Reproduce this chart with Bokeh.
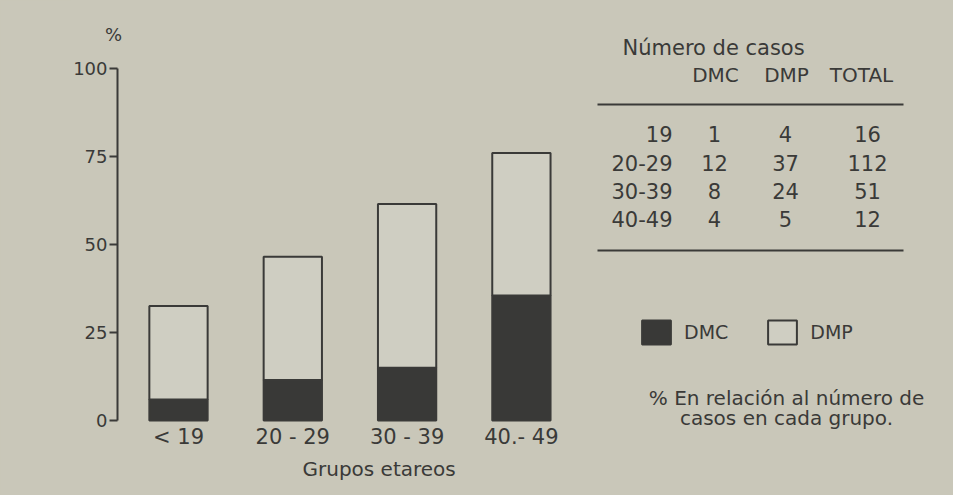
from bokeh.plotting import figure
from bokeh.models import (Range1d, FixedTicker, Label, BoxAnnotation, ColumnDataSource, Title)
from bokeh.embed import file_html
from bokeh.resources import INLINE

# ---------------- data ----------------
groups = ["< 19", "20 - 29", "30 - 39", "40.- 49"]
dmc_pct = [6.0, 11.5, 15.0, 35.5]
dmp_pct = [26.5, 35.0, 46.5, 40.5]
y_ticks = [0, 25, 50, 75, 100]

table_rows = ["19", "20-29", "30-39", "40-49"]
table_dmc = [1, 12, 8, 4]
table_dmp = [4, 37, 24, 5]
table_total = [16, 112, 51, 12]
table_header = ["DMC", "DMP", "TOTAL"]

# ---------------- style / layout ----------------
BG = "#c9c7b9"
LIGHT = "#cfcec2"
DARK = "#393937"
EDGE = "#3a3a38"
INK = "#3a3a38"
FONT = "DejaVu Sans"

W, H = 953, 495
LEFT = 70            # frame left edge (px)
FRAME_BOTTOM = 432   # frame bottom edge (px from top)
ZERO_Y = 420         # pixel row of 0 %
AXIS_X = 117         # pixel column of the y axis line
px_per_pct = 3.52
unit_px = 114.3
first_center_px = 178

x_start = -(first_center_px - LEFT) / unit_px
x_end = x_start + (W - LEFT) / unit_px
y_start = -(FRAME_BOTTOM - ZERO_Y) / px_per_pct
y_end = ZERO_Y / px_per_pct

xs = list(range(len(groups)))
src = ColumnDataSource(dict(x=xs, dmc=dmc_pct, dmp=dmp_pct))

p = figure(width=W, height=H, output_backend="svg", toolbar_location=None,
           x_range=Range1d(x_start, x_end), y_range=Range1d(y_start, y_end),
           min_border_left=LEFT, min_border_bottom=H - FRAME_BOTTOM,
           min_border_top=0, min_border_right=0)
p.background_fill_alpha = 0
p.border_fill_color = BG
p.outline_line_color = None
p.grid.visible = False

p.vbar_stack(["dmc", "dmp"], x="x", width=0.51, source=src,
             fill_color=[DARK, LIGHT], line_color=EDGE, line_width=2,
             legend_label=["DMC", "DMP"])

# y axis (drawn inside the frame at a fixed place)
ya = p.yaxis[0]
ya.fixed_location = x_start + (AXIS_X - LEFT) / unit_px
ya.ticker = FixedTicker(ticks=y_ticks)
ya.bounds = (0, 100)
ya.axis_line_width = 2
ya.axis_line_color = INK
ya.major_tick_line_color = INK
ya.major_tick_line_width = 2
ya.major_tick_in = 0
ya.major_tick_out = 8
ya.minor_tick_line_color = None
ya.major_label_text_font = FONT
ya.major_label_text_font_size = "18px"
ya.major_label_text_color = INK
ya.major_label_standoff = 2

# x axis
xa = p.xaxis[0]
xa.ticker = FixedTicker(ticks=xs)
xa.major_label_overrides = {i: g for i, g in zip(xs, groups)}
xa.axis_line_color = None
xa.major_tick_line_color = None
xa.minor_tick_line_color = None
xa.major_label_text_font = FONT
xa.major_label_text_font_size = "21px"
xa.major_label_text_color = INK
xa.major_label_standoff = -14

p.add_layout(Title(text="Grupos etareos", align="left", offset=302 - LEFT,
                   text_font=FONT, text_font_size="20px", text_font_style="normal",
                   text_color=INK, standoff=6), "below")

# legend
lg = p.legend[0]
lg.orientation = "horizontal"
lg.location = (638 - LEFT, FRAME_BOTTOM - 347)
lg.glyph_width = 36
lg.glyph_height = 30
lg.label_standoff = 10
lg.spacing = 36
lg.padding = 0
lg.margin = 0
lg.background_fill_alpha = 0
lg.border_line_color = None
lg.label_text_font = FONT
lg.label_text_font_size = "19px"
lg.label_text_color = INK


def to_screen(ix, iy):
    return ix - LEFT, FRAME_BOTTOM - iy


def add_text(text, ix, iy, align="center", size="20px"):
    sx, sy = to_screen(ix, iy)
    p.add_layout(Label(x=sx, y=sy, x_units="screen", y_units="screen", text=text,
                       text_align=align, text_baseline="middle",
                       text_font=FONT, text_font_size=size, text_color=INK))


def add_hline(ix0, ix1, iy):
    l, y = to_screen(ix0, iy)
    r, _ = to_screen(ix1, iy)
    p.add_layout(BoxAnnotation(left=l, right=r, top=y + 1, bottom=y - 1,
                               left_units="screen", right_units="screen",
                               top_units="screen", bottom_units="screen",
                               fill_color=INK, fill_alpha=1, line_alpha=0))


add_text("%", 113, 34, size="18px")

# table
add_text("Número de casos", 622, 47, align="left", size="21px")
for h, cx in zip(table_header, [715, 786, 861]):
    add_text(h, cx, 74)
add_hline(597, 903, 104)
row_y = [133, 162, 190, 218]
for lab, a, b, c, ry in zip(table_rows, table_dmc, table_dmp, table_total, row_y):
    add_text(lab, 672, ry, align="right", size="21px")
    add_text(str(a), 714, ry, size="21px")
    add_text(str(b), 785, ry, size="21px")
    add_text(str(c), 867, ry, size="21px")
add_hline(597, 903, 250)

# note
add_text("% En relación al número de", 786, 397)
add_text("casos en cada grupo.", 786, 417)

html = file_html(p, INLINE)
html = html.replace("</head>", "<style>html, body { background: %s; }</style></head>" % BG, 1)
open("out.html", "w").write(html)
